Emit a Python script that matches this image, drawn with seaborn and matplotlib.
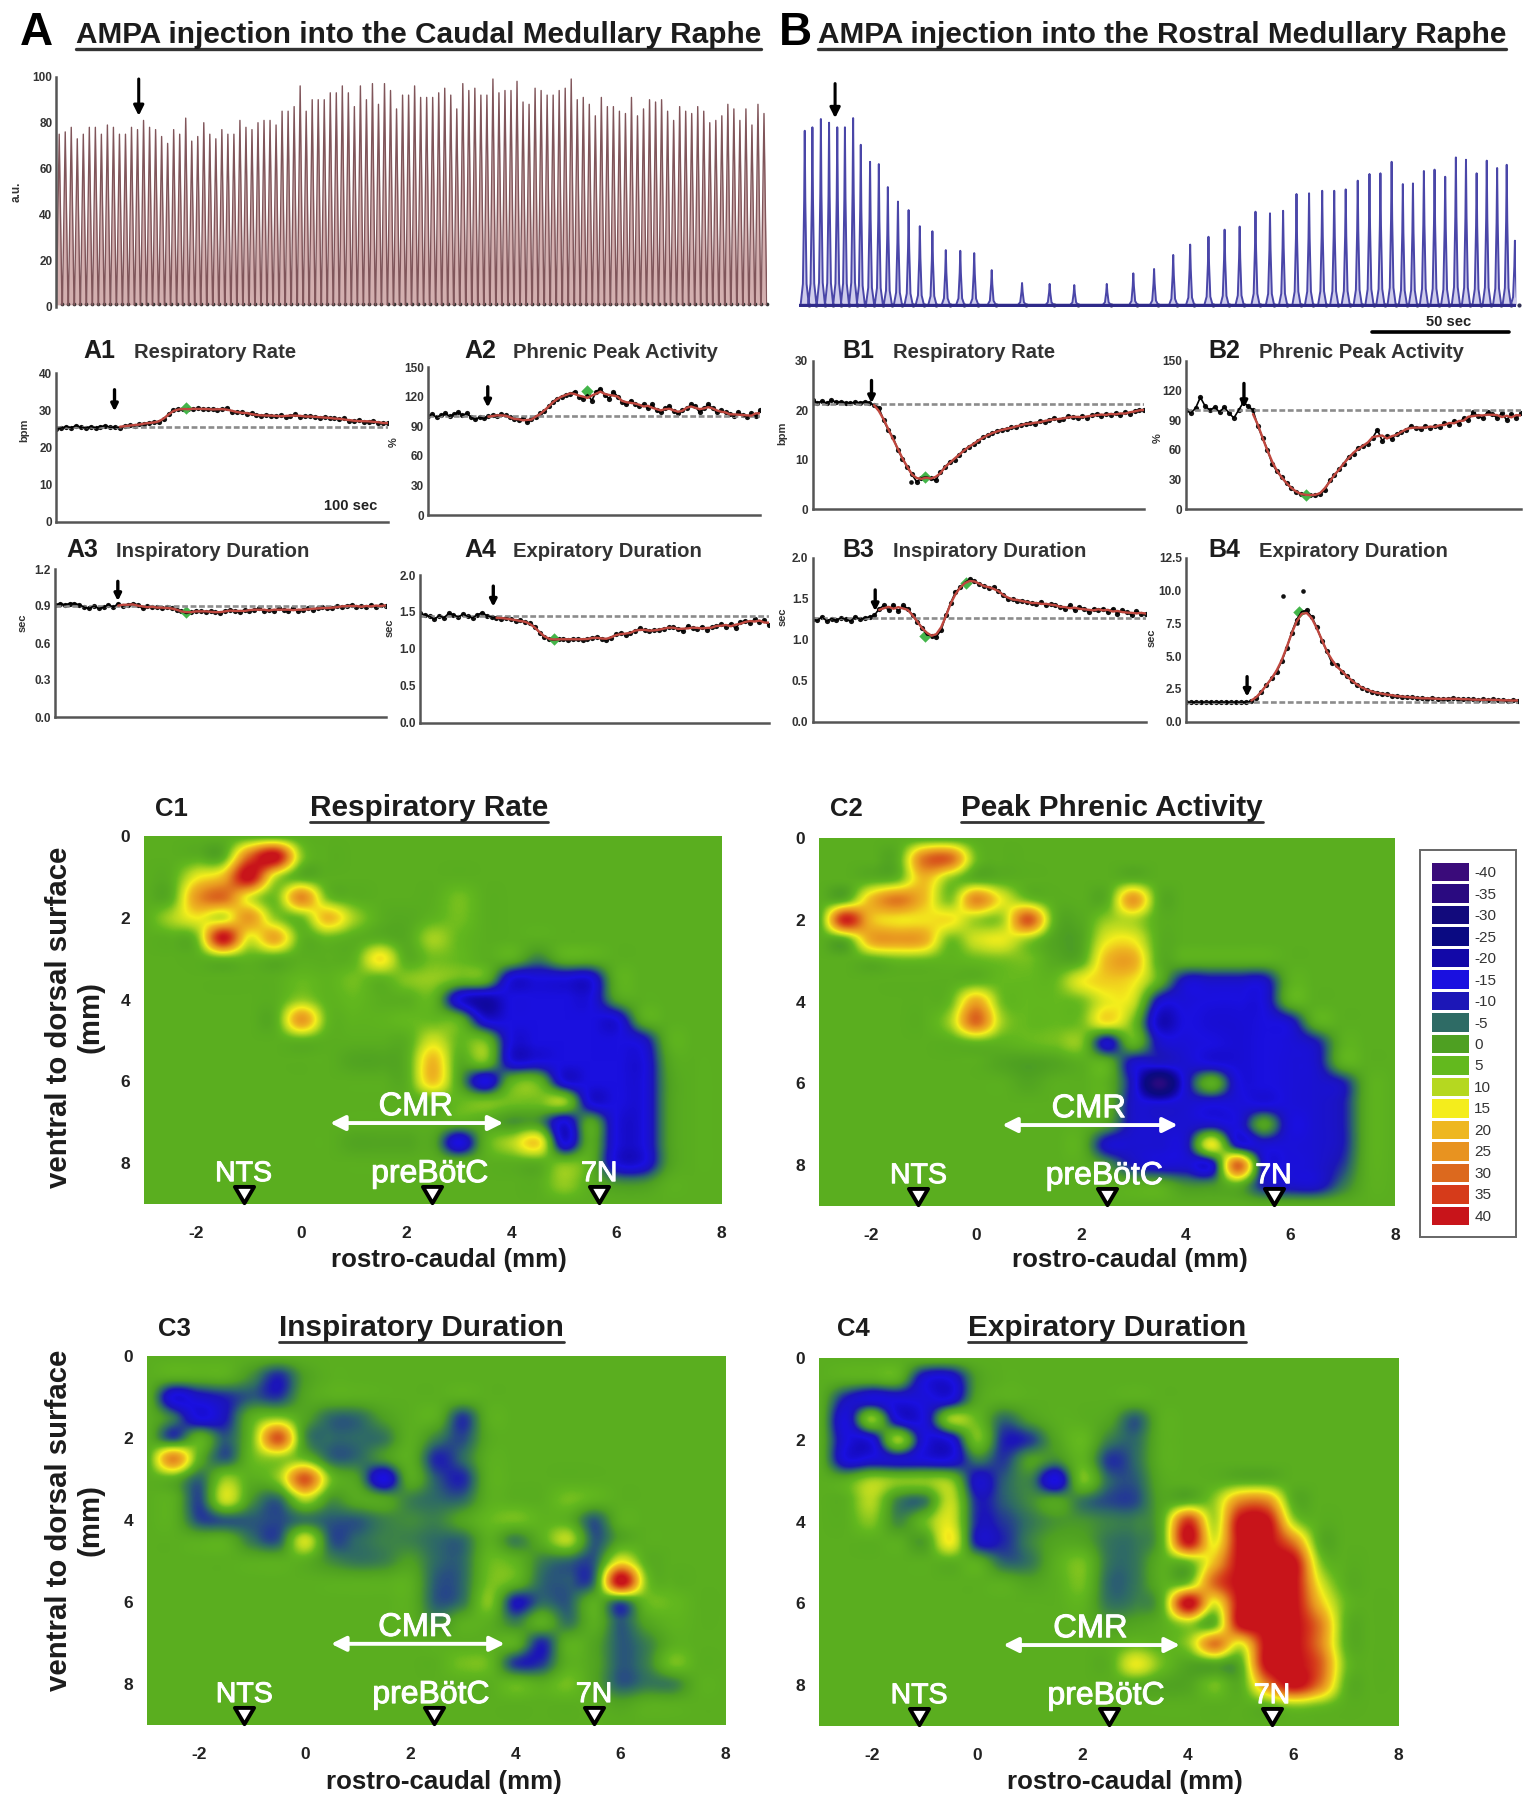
"""AMPA injection into the medullary raphe: phrenic traces, time courses and functional maps."""

import numpy as np
import pandas as pd
import matplotlib.pyplot as plt
import matplotlib.patheffects as pe
import seaborn as sns
from matplotlib.colors import LinearSegmentedColormap
from matplotlib.lines import Line2D
from matplotlib.patches import Rectangle
from matplotlib.path import Path

W, H = 1523, 1800

# ---- top traces: peak heights in a.u.
A_peaks = [75, 76, 78, 73, 75, 78, 78, 75, 79, 78, 75, 75, 78, 77, 81, 78, 77, 74, 71, 77, 75, 82, 72, 74, 80,
           75, 73, 77, 75, 75, 81, 78, 77, 80, 81, 81, 79, 85, 85, 87, 96, 85, 90, 90, 90, 93, 93, 96, 93, 87,
           96, 90, 97, 88, 97, 94, 86, 92, 92, 96, 91, 91, 91, 93, 95, 92, 86, 97, 94, 95, 92, 92, 99, 93, 94,
           94, 98, 89, 88, 95, 94, 92, 92, 94, 95, 99, 90, 91, 88, 83, 91, 87, 87, 85, 84, 91, 83, 86, 90, 89,
           90, 85, 81, 87, 85, 84, 87, 85, 80, 81, 83, 88, 86, 81, 86, 79, 88, 84]
B_times = [2.1, 4.9, 8.0, 11.0, 14.0, 16.8, 19.8, 22.6, 26.0, 29.2, 32.5, 36.2, 40.1, 44.2, 48.8, 53.7, 59.0, 64.1,
           70.5, 81.6, 91.7, 100.7, 112.6, 122.3, 129.9, 136.9, 143.1, 149.8, 155.7, 161.2, 167.0, 172.3, 177.1,
           182.0, 186.6, 191.4, 195.8, 200.0, 204.4, 208.7, 212.7, 216.8, 220.9, 224.6, 228.6, 232.5, 236.4, 240.3,
           244.0, 247.9, 251.6, 255.4, 258.9, 261.9]
B_peaks = [76.5, 78, 81.6, 80, 78, 78, 82, 70.4, 63, 62, 52, 45.7, 42, 35, 32.8, 24.6, 24.3, 23.3, 15.9, 10.3, 9.9, 9.4,
           9.9, 14.5, 16.4, 22.5, 27, 30.4, 33.5, 34.8, 41.3, 40.6, 41.7, 49, 49.3, 50.4, 50.4, 51, 54.8, 57.7, 58, 63,
           53.3, 53.6, 59, 59.6, 56.5, 64.9, 63.9, 58, 63.5, 60.3, 61.7, 28.7]

# ---- time courses
A1_y = [25, 25.2, 25.6, 25.3, 25.8, 25.4, 25.2, 25.6, 25.3, 25.6, 25.8, 25.4, 25.5, 25.3, 25.8, 26, 25.8, 26.2, 26.4,
        26.6, 26.7, 26.8, 27.5, 29, 30, 30.4, 30.2, 30.4, 30.2, 30.5, 30.3, 30.2, 30.4, 30, 30.3, 30.5, 29.6, 29.4,
        29.5, 29, 29.2, 28.6, 28.4, 28.8, 28.5, 28.3, 28.6, 28.2, 28.5, 28.9, 28.2, 28.3, 28.4, 28.2, 28, 28.1, 27.9,
        27.8, 27.5, 27.8, 27.2, 27, 27.3, 26.9, 26.9, 27.2, 26.5, 26.6, 26.5]
A2_y = [100, 102, 99, 101, 103, 100, 102, 104, 101, 103, 99, 97, 99, 98, 100, 101, 100, 102, 101, 99, 97, 96, 98, 94,
        97, 99, 103, 105, 110, 115, 118, 120, 122, 123, 125, 120, 118, 122, 116, 125, 128, 122, 118, 125, 120, 115,
        112, 116, 113, 110, 112, 108, 112, 106, 104, 108, 110, 105, 103, 106, 108, 112, 110, 104, 108, 112, 108, 104,
        106, 104, 102, 100, 104, 101, 99, 103, 100, 106]
A3_y = [.91, .92, .91, .92, .92, .91, .89, .88, .90, .88, .89, .91, .89, .92, .90, .91, .92, .91, .88, .90, .89, .89,
        .88, .89, .88, .87, .86, .84, .85, .86, .86, .85, .86, .85, .84, .86, .87, .86, .85, .87, .86, .87, .88, .86,
        .87, .86, .88, .87, .86, .88, .86, .87, .88, .87, .88, .89, .88, .88, .90, .89, .90, .91, .89, .90, .89, .91,
        .89, .91, .90]
A4_y = [1.48, 1.46, 1.44, 1.40, 1.45, 1.42, 1.48, 1.46, 1.43, 1.47, 1.44, 1.42, 1.46, 1.49, 1.45, 1.43, 1.42, 1.41,
        1.42, 1.40, 1.38, 1.39, 1.36, 1.35, 1.30, 1.22, 1.16, 1.13, 1.12, 1.13, 1.14, 1.12, 1.13, 1.14, 1.12, 1.13,
        1.15, 1.16, 1.14, 1.12, 1.15, 1.20, 1.21, 1.19, 1.22, 1.24, 1.28, 1.25, 1.24, 1.25, 1.26, 1.27, 1.29, 1.30,
        1.27, 1.24, 1.31, 1.28, 1.27, 1.30, 1.26, 1.29, 1.31, 1.33, 1.30, 1.34, 1.28, 1.36, 1.38, 1.35, 1.40, 1.36,
        1.39, 1.32]
B1_y = [22, 21.5, 21.8, 21.4, 22, 21.6, 21.7, 21.5, 21.4, 21.6, 21.5, 21.7, 21.5, 21, 20.5, 18, 16, 14.5, 12, 10.2,
        8.5, 7, 5.5, 6.3, 6.5, 6.2, 5.8, 7.5, 8.4, 9.6, 10, 11, 12, 12.5, 13.2, 13.8, 14.5, 15, 15.3, 15.8, 16, 16.2,
        16.5, 16.6, 17, 17.2, 17.4, 17.2, 17.8, 17.6, 18, 18.4, 18, 18.2, 18.8, 18.6, 18.5, 18.8, 18.4, 19, 19.2,
        18.8, 19.3, 19, 19.4, 19, 19.6, 19.3, 19.8, 20.1, 20]
B2_y = [100, 97, 102, 113, 104, 100, 103, 98, 103, 97, 92, 100, 108, 104, 100, 84, 72, 60, 46, 38, 32, 26, 21, 17, 15,
        14, 14, 14, 15, 19, 29, 34, 40, 46, 53, 56, 62, 64, 66, 72, 80, 69, 74, 71, 76, 78, 80, 84, 82, 81, 84, 82, 84,
        83, 87, 85, 89, 86, 92, 90, 98, 94, 92, 98, 96, 92, 97, 90, 96, 92, 97]
B3_y = [1.25, 1.24, 1.28, 1.23, 1.26, 1.24, 1.27, 1.25, 1.23, 1.28, 1.25, 1.27, 1.28, 1.3, 1.38, 1.42, 1.36, 1.43,
        1.35, 1.42, 1.38, 1.3, 1.22, 1.15, 1.06, 1.05, 1.04, 1.12, 1.3, 1.45, 1.58, 1.64, 1.7, 1.74, 1.72, 1.68, 1.66,
        1.63, 1.64, 1.6, 1.55, 1.5, 1.5, 1.48, 1.48, 1.46, 1.45, 1.44, 1.46, 1.42, 1.44, 1.43, 1.4, 1.38, 1.42, 1.36,
        1.4, 1.38, 1.34, 1.38, 1.36, 1.38, 1.34, 1.38, 1.32, 1.36, 1.34, 1.3, 1.35, 1.32, 1.32]
B4_y = [1.5, 1.5, 1.5, 1.5, 1.5, 1.5, 1.5, 1.5, 1.5, 1.5, 1.5, 1.5, 1.5, 1.55, 1.8, 2.3, 2.8, 3.3, 3.8, 4.6, 5.6, 6.8,
        7.8, 8.4, 8.5, 8.0, 7.2, 6.2, 5.4, 4.5, 4.3, 3.8, 3.5, 3.1, 2.8, 2.6, 2.4, 2.3, 2.2, 2.1, 2.1, 2.0, 1.95, 1.9,
        1.9, 1.85, 1.8, 1.8, 1.75, 1.8, 1.75, 1.7, 1.75, 1.8, 1.7, 1.75, 1.7, 1.7, 1.65, 1.7, 1.65, 1.7, 1.65, 1.65,
        1.6, 1.65, 1.6]

# ---- maps: rows 0..9 mm, columns -3..8 mm, both every 0.5 mm
C1_grid = [
    [3, 3, 3, 3, 3, 3, 3, 3, 3, 3, 3, 3, 3, 3, 3, 3, 3, 3, 3, 3, 3, 3, 3],
    [3, 3, 3, 3, 30, 42, 8, 3, 3, 3, 3, 3, 3, 3, 3, 3, 3, 3, 3, 3, 3, 3, 3],
    [3, 3, 14, 20, 42, 12, 3, 3, 3, 3, 3, 3, 3, 3, 3, 3, 3, 3, 3, 3, 3, 3, 3],
    [3, 3, 24, 30, 14, 6, 26, 6, 3, 3, 3, 3, 6, 3, 3, 3, 3, 3, 3, 3, 3, 3, 3],
    [3, 9, 15, 12, 24, 8, 6, 20, 9, 3, 2, 4, 6, 3, 3, 3, 3, 3, 3, 3, 3, 3, 3],
    [3, 3, 6, 40, 14, 22, 4, 5, 3, 3, 2, 9, 5, 3, 3, 3, 3, 3, 3, 3, 3, 3, 3],
    [3, 3, 3, 5, 4, 3, 3, 3, 4, 16, 3, 6, 5, 3, 3, -3, 3, 3, 3, 3, 3, 3, 3],
    [3, 3, 3, 3, 3, 3, 5, 4, 6, 4, 7, 8, 5, 3, -15, -15, -15, -15, 3, 3, 3, 3, 3],
    [3, 3, 3, 3, 3, 3, 8, 4, 5, 3, 3, 4, -15, -20, -15, -15, -15, -15, 0, 3, 3, 3, 3],
    [3, 3, 3, 3, 3, 3, 24, 5, 4, 4, 5, 5, 3, -15, -15, -15, -15, -15, -15, 2, 3, 3, 3],
    [3, 3, 3, 3, 3, 3, 4, 3, 3, 3, 3, 12, 5, 5, -15, -15, -15, -15, -15, -12, 3, 3, 3],
    [3, 3, 3, 3, 3, 3, 3, 3, 1, 1, 3, 20, 3, 6, -15, -15, -15, -15, -15, -15, 1, 3, 3],
    [3, 3, 3, 3, 3, 3, 3, 3, 3, 3, 3, 19, 1, -15, 3, 4, -15, -15, -15, -15, 0, 3, 3],
    [3, 3, 3, 3, 3, 3, 3, 3, 3, 3, 3, 3, 5, 6, 6, 6, 8, -15, -15, -15, 0, 3, 3],
    [3, 3, 3, 3, 3, 3, 3, 3, 3, 3, 3, 3, 3, 2, -1, -1, -15, 1, -15, -15, 0, 3, 3],
    [3, 3, 3, 3, 3, 3, 3, 3, 1, 1, 1, 1, -15, 3, 10, 17, -15, 2, -15, -15, 0, 3, 3],
    [3, 3, 3, 3, 3, 3, 3, 3, 3, 3, 3, 3, 3, 3, 3, 3, 6, 3, -15, -15, 0, 3, 3],
    [3, 3, 3, 3, 3, 3, 3, 3, 3, 3, 3, 3, 3, 3, 3, 3, 8, 3, -1, -1, 3, 3, 3],
    [3, 3, 3, 3, 3, 3, 3, 3, 3, 3, 3, 3, 3, 3, 3, 3, 3, 3, 3, 3, 3, 3, 3],
]
C2_grid = [
    [3, 3, 3, 3, 3, 3, 3, 3, 3, 3, 3, 3, 3, 3, 3, 3, 3, 3, 3, 3, 3, 3, 3],
    [3, 3, 3, 3, 28, 30, 6, 3, 3, 3, 3, 3, 3, 3, 3, 3, 3, 3, 3, 3, 3, 3, 3],
    [3, 3, 3, 5, 20, 8, 3, 3, 3, 3, 3, 3, 3, 3, 3, 3, 3, 3, 3, 3, 3, 3, 3],
    [3, 3, 20, 28, 20, 7, 26, 14, 6, 3, 3, 3, 24, 3, 3, 3, 3, 3, 3, 3, 3, 3, 3],
    [3, 38, 20, 16, 16, 16, 9, 9, 32, 4, 2, 8, 10, 3, 3, 3, 3, 3, 3, 3, 3, 3, 3],
    [3, 3, 22, 24, 22, 6, 12, 14, 8, 1, 1, 14, 15, 3, 3, 3, 3, 3, 3, 3, 3, 3, 3],
    [3, 3, 3, 5, 5, 4, 5, 6, 6, 2, 3, 20, 22, 3, 3, 3, 3, 3, 3, 3, 3, 3, 3],
    [3, 3, 3, 3, 3, 3, 4, 5, 5, 5, 14, 18, 16, 3, -12, -12, -12, -12, 3, 3, 3, 3, 3],
    [3, 3, 3, 3, 3, 5, 22, 6, 5, 5, 6, 14, 12, -12, -14, -15, -15, -14, 3, 3, 3, 3, 3],
    [3, 3, 3, 3, 3, 9, 30, 9, 5, 5, 6, 16, 6, -18, -15, -16, -16, -15, -12, 3, 3, 3, 3],
    [3, 3, 3, 3, 3, 3, 5, 4, 5, 6, 7, -12, 4, -12, -14, -15, -16, -15, -14, -10, 3, 3, 3],
    [3, 3, 3, 3, 3, 3, 3, 1, 0, 1, 3, 3, -12, -12, -13, -15, -16, -15, -14, -12, 3, 3, 3],
    [3, 3, 3, 3, 3, 3, 3, 3, 1, 3, 3, 3, -12, -35, -13, 3, -14, -15, -14, -13, -10, 3, 3],
    [3, 3, 3, 3, 3, 3, 3, 3, 3, 3, 3, 3, -12, -14, -13, -14, -14, -15, -14, -13, -10, 3, 3],
    [3, 3, 3, 3, 3, 3, 3, 3, 3, 3, 3, 0, -12, -13, -13, -12, -14, 1, -14, -13, -10, 3, 3],
    [3, 3, 3, 3, 3, 3, 3, 3, 3, 3, 3, -12, -13, -13, -12, 14, -12, -13, -14, -13, -10, 3, 3],
    [3, 3, 3, 3, 3, 3, 3, 3, 3, 3, 3, -1, -10, -13, -13, -13, 30, -12, -14, -13, -8, 3, 3],
    [3, 3, 3, 3, 3, 3, 3, 3, 3, 3, 3, 3, 3, 3, -1, -1, 3, -10, -12, -12, -4, 3, 3],
    [3, 3, 3, 3, 3, 3, 3, 3, 3, 3, 3, 3, 3, 3, 3, 3, 3, 3, 3, 3, 3, 3, 3],
]
C3_grid = [
    [3, 3, 3, 3, 3, 3, 3, 3, 3, 3, 3, 3, 3, 3, 3, 3, 3, 3, 3, 3, 3, 3, 3],
    [3, 3, 3, 3, -2, -9, 0, 3, 3, 3, 3, 3, 3, 3, 3, 3, 3, 3, 3, 3, 3, 3, 3],
    [3, -15, -12, -9, -6, -8, 1, 3, 3, 3, 3, 3, 3, 3, 3, 3, 3, 3, 3, 3, 3, 3, 3],
    [3, -4, -15, -10, 3, 7, 1, -5, -5, 0, 3, 3, -8, 3, 3, 3, 3, 3, 3, 3, 3, 3, 3],
    [3, -7, 3, -6, 6, 32, -1, -5, -5, -4, 3, -3, -7, 2, 3, 3, 3, 3, 3, 3, 3, 3, 3],
    [3, 26, 3, -6, 5, 8, 5, -5, -5, -1, 3, -9, -5, 3, 3, 3, 3, 3, 3, 3, 3, 3, 3],
    [3, 3, -5, 8, 3, 8, 32, 6, 0, -15, 2, -6, -9, 3, 3, 3, 3, 3, 3, 3, 3, 3, 3],
    [3, 3, -7, 12, -1, -5, 10, -1, 2, 1, -3, -5, -5, 3, 3, 3, 6, 4, 3, 3, 3, 3, 3],
    [3, 3, -7, -6, -6, -7, -4, -6, -6, -3, -2, -3, 1, 5, 6, 4, 3, -6, 3, 3, 3, 3, 3],
    [3, 3, 3, 3, -4, -6, 12, -6, -5, -3, -3, -5, -5, 3, -3, 3, 10, -6, 1, 3, 3, 3, 3],
    [3, 3, 3, 3, 3, 3, 3, -2, -4, -3, 0, -5, -5, 5, 4, -3, -5, -6, 14, 3, 3, 3, 3],
    [3, 3, 3, 3, 3, 3, 3, 3, 3, 3, 3, -6, -5, 6, 4, -5, -6, -4, 42, 7, 3, 3, 3],
    [3, 3, 3, 3, 3, 3, 3, 3, 3, 3, 3, -6, -4, 7, -10, -5, -6, 3, -5, 5, 5, 3, 3],
    [3, 3, 3, 3, 3, 3, 3, 3, 3, 3, 3, -2, 3, 3, -3, 3, -4, 3, -6, 1, 4, 3, 3],
    [3, 3, 3, 3, 3, 3, 3, 3, 3, 3, 3, 3, 3, 3, 3, -9, 3, 1, -6, -3, 3, 3, 3],
    [3, 3, 3, 3, 3, 3, 3, 3, 3, 3, 3, 3, 6, 5, -8, -8, 3, 1, -6, -3, 6, 3, 3],
    [3, 3, 3, 3, 3, 3, 3, 3, 3, 3, 3, 3, 3, 3, 5, 3, 6, 1, -6, -4, -3, 3, 3],
    [3, 3, 3, 3, 3, 3, 3, 3, 3, 3, 3, 3, 3, 3, 3, 3, 3, 3, 1, 3, 3, 3, 3],
    [3, 3, 3, 3, 3, 3, 3, 3, 3, 3, 3, 3, 3, 3, 3, 3, 3, 3, 3, 3, 3, 3, 3],
]
C4_grid = [
    [3, 3, 3, 3, 3, 3, 3, 3, 3, 3, 3, 3, 3, 3, 3, 3, 3, 3, 3, 3, 3, 3, 3],
    [3, 3, 3, 3, -13, -14, 0, 3, 3, 3, 3, 3, 3, 3, 3, 3, 3, 3, 3, 3, 3, 3, 3],
    [3, -10, -14, -14, -14, -14, 1, 3, 3, 3, 3, 3, 3, 3, 3, 3, 3, 3, 3, 3, 3, 3, 3],
    [3, -14, 7, -14, -14, 8, 5, -5, 0, 3, 3, 1, -6, 3, 3, 3, 3, 3, 3, 3, 3, 3, 3],
    [3, -14, -14, 8, -14, -14, 6, -9, -8, 1, 5, -3, -5, 3, 3, 3, 3, 3, 3, 3, 3, 3, 3],
    [3, -14, -13, -12, -14, -14, -4, -8, 0, -2, 4, -8, -5, 3, 3, 3, 3, 3, 3, 3, 3, 3, 3],
    [3, 3, 9, 7, 7, 7, -12, -6, -3, -15, 6, -5, -6, 2, 3, 3, 3, 3, 3, 3, 3, 3, 3],
    [3, 3, 10, -3, -4, 11, -9, -6, -2, 1, -4, -7, -7, 1, 3, 8, 26, 26, 3, 3, 3, 3, 3],
    [3, 3, 7, -2, 5, 13, -9, -8, -4, -1, -1, -3, -3, 3, 36, 10, 42, 42, 10, 3, 3, 3, 3],
    [3, 3, 3, 3, 0, 15, -10, -9, -3, 1, 1, -4, -4, 3, 40, 14, 42, 42, 28, 3, 3, 3, 3],
    [3, 3, 3, 3, 3, 3, 3, -5, -4, 3, 6, -4, -4, 3, 5, 20, 42, 42, 42, 8, 3, 3, 3],
    [3, 3, 3, 3, 3, 3, 3, 3, 1, 3, 6, -5, -4, 3, 6, 30, 42, 42, 42, 14, 3, 3, 3],
    [3, 3, 3, 3, 3, 3, 3, 3, 3, 3, 4, -4, -3, 3, 42, 14, 42, 42, 42, 20, 5, 3, 3],
    [3, 3, 3, 3, 3, 3, 3, 3, 3, 3, 3, 0, 1, 3, 9, 4, 42, 42, 42, 28, 4, 3, 3],
    [3, 3, 3, 3, 3, 3, 3, 3, 3, 3, 3, 3, 5, 4, 8, 28, 14, 42, 42, 28, 4, 3, 3],
    [3, 3, 3, 3, 3, 3, 3, 3, 3, 3, 3, 3, 14, 6, 1, 1, 3, 42, 42, 32, 6, 3, 3],
    [3, 3, 3, 3, 3, 3, 3, 3, 3, 3, 3, 3, 2, 1, 1, 6, 3, 26, 42, 28, 4, 3, 3],
    [3, 3, 3, 3, 3, 3, 3, 3, 3, 3, 3, 3, 3, 3, 3, 3, 3, 4, 8, 6, 3, 3, 3],
    [3, 3, 3, 3, 3, 3, 3, 3, 3, 3, 3, 3, 3, 3, 3, 3, 3, 3, 3, 3, 3, 3, 3],
]
legend_levels = [-40, -35, -30, -25, -20, -15, -10, -5, 0, 5, 10, 15, 20, 25, 30, 35, 40]
legend_colors = ["#3a0b7a", "#2a0a80", "#120a7c", "#0a0a82", "#1208a8", "#1a10e0", "#1c16b8", "#2e6a66", "#4ea022",
                 "#62b81e", "#b4d820", "#f4ee1c", "#eeb820", "#e89420", "#dc6a1e", "#d63c1a", "#c8141a"]

sns.set_theme(style="white")
plt.rcParams["font.family"] = "Liberation Sans"
plt.rcParams["axes.unicode_minus"] = False

cmap = LinearSegmentedColormap.from_list("resp", legend_colors, N=512)
fig = plt.figure(figsize=(W / 100, H / 100), dpi=100, facecolor="white")
renderer = fig.canvas.get_renderer()
glow = [pe.withStroke(linewidth=0.7, foreground="white")]


def px_ax(left, top, right, bottom):
    return fig.add_axes([left / W, 1 - bottom / H, (right - left) / W, (bottom - top) / H])


def px_text(x, y, s, **kw):
    return fig.text(x / W, 1 - y / H, s, **kw)


def underlined(x, y, s, size, lw=2.4):
    t = px_text(x, y, s, fontsize=size, fontweight="bold", color="#1c1c1c", va="baseline")
    w = t.get_window_extent(renderer).width
    fig.add_artist(Line2D([x / W, (x + w) / W], [1 - (y + 6) / H] * 2, color="#333333", lw=lw))


def style_trace_ax(ax, ticks):
    sns.despine(ax=ax)
    ax.set_yticks(ticks)
    ax.set_xticks([])
    ax.tick_params(axis="y", labelsize=8.5, length=0, pad=3, labelcolor="#333333")
    for lab in ax.get_yticklabels():
        lab.set_fontweight("bold")
    for side in ("left", "bottom"):
        ax.spines[side].set_color("#555555")
        ax.spines[side].set_linewidth(1.8)
    ax.patch.set_alpha(0)


def spike_trace(ax, times, heights, half_width, line_color, fill_color, rel_t, rel_v, lw):
    t = np.ravel([[p + half_width * r for r in rel_t] for p in times])
    v = np.ravel([[0.8 + (h - 0.8) * r for r in rel_v] for h in heights])
    ax.fill_between(t, v, 0.8, color=fill_color, lw=0)
    sns.lineplot(x=t, y=v, sort=False, estimator=None, color=line_color, lw=lw, ax=ax, legend=False)


# ---- panels A and B
px_text(20, 45, "A", fontsize=33, fontweight="bold", color="black", va="baseline")
px_text(779, 45, "B", fontsize=33, fontweight="bold", color="black", va="baseline")
underlined(76, 43, "AMPA injection into the Caudal Medullary Raphe", 21.4)
underlined(818, 43, "AMPA injection into the Rostral Medullary Raphe", 21.4)

ax = px_ax(56.5, 76.7, 767, 306.7)
a_index = np.arange(len(A_peaks))
spike_trace(ax, a_index, A_peaks, 0.46, "#80555a", "#d3afaf", [-1, 0, 1], [0, 1, 0], 1.0)
ax.set(xlim=(-0.45, len(A_peaks) - 0.5), ylim=(0, 100), xlabel="", ylabel="")
style_trace_ax(ax, [0, 20, 40, 60, 80, 100])
ax.spines["bottom"].set_visible(False)
sns.scatterplot(x=a_index + 0.5, y=1.2, s=7, color="#333333", linewidth=0, ax=ax, clip_on=False, legend=False)
ax.annotate("", xy=(13.2, 83), xytext=(13.2, 99),
            arrowprops=dict(arrowstyle="-|>", color="black", lw=2.2, mutation_scale=15, shrinkA=0, shrinkB=0))
px_text(17, 192, "a.u.", fontsize=8.5, fontweight="bold", rotation=90, ha="center", va="center", color="#333333")

ax = px_ax(799, 76.7, 1516, 306.7)
spike_trace(ax, B_times, B_peaks, 1.5, "#4a46a8", "#cfcdec", [-1, -0.45, -0.14, 0, 0.14, 0.45, 1],
            [0, 0.12, 0.6, 1, 0.6, 0.12, 0], 1.4)
sns.lineplot(x=[0, 262], y=[0.8, 0.8], color="#2f2a8a", lw=2.4, ax=ax, legend=False)
sns.scatterplot(x=np.array(B_times) + 1.5, y=0.6, s=9, color="#333355", linewidth=0, ax=ax, clip_on=False, legend=False)
ax.set(xlim=(0, 262.3), ylim=(0, 100), xticks=[], yticks=[], xlabel="", ylabel="")
sns.despine(ax=ax, left=True, bottom=True)
ax.patch.set_alpha(0)
ax.annotate("", xy=(13.2, 82), xytext=(13.2, 97),
            arrowprops=dict(arrowstyle="-|>", color="black", lw=2.2, mutation_scale=15, shrinkA=0, shrinkB=0))
fig.add_artist(Line2D([1372 / W, 1509 / W], [1 - 332 / H] * 2, color="black", lw=2.6))
px_text(1449, 322, "50 sec", fontsize=10.5, fontweight="bold", ha="center", va="center", color="#222222")

panels = [
    dict(y=A1_y, label="A1", title="Respiratory Rate", lab_x=83, tit_x=134, base_y=358, rect=(56.5, 373, 388, 521.7),
         ylim=(0, 40), ticks=[0, 10, 20, 30, 40], fmt="%d", unit="bpm", unit_px=(24, 430), baseline=25.6,
         mark=(0.39, 30.5), arrow=(0.175, 35.5, 29.7), start=0.18),
    dict(y=A2_y, label="A2", title="Phrenic Peak Activity", lab_x=464, tit_x=513, base_y=358,
         rect=(428, 367, 760, 515), ylim=(0, 150), ticks=[0, 30, 60, 90, 120, 150], fmt="%d", unit="%",
         unit_px=(394, 442), baseline=100, mark=(0.48, 126), arrow=(0.18, 130, 109), start=0.18),
    dict(y=A3_y, label="A3", title="Inspiratory Duration", lab_x=66, tit_x=116, base_y=557,
         rect=(55, 569, 385.6, 717), ylim=(0, 1.2), ticks=[0, 0.3, 0.6, 0.9, 1.2], fmt="%.1f", unit="sec",
         unit_px=(22.6, 623), baseline=0.9, mark=(0.395, 0.85), arrow=(0.19, 1.1, 0.94), start=0.19),
    dict(y=A4_y, label="A4", title="Expiratory Duration", lab_x=464, tit_x=513, base_y=557,
         rect=(420, 575, 769, 722.7), ylim=(0, 2), ticks=[0, 0.5, 1, 1.5, 2], fmt="%.1f", unit="sec",
         unit_px=(390, 628), baseline=1.45, mark=(0.385, 1.13), arrow=(0.21, 1.85, 1.57), start=0.21),
    dict(y=B1_y, label="B1", title="Respiratory Rate", lab_x=842, tit_x=893, base_y=358,
         rect=(812.5, 360.7, 1144, 509), ylim=(0, 30), ticks=[0, 10, 20, 30], fmt="%d", unit="bpm",
         unit_px=(782, 433), baseline=21.3, mark=(0.338, 6.5), arrow=(0.178, 26, 21.4), start=0.18),
    dict(y=B2_y, label="B2", title="Phrenic Peak Activity", lab_x=1208, tit_x=1259, base_y=358,
         rect=(1186, 360.7, 1521, 509), ylim=(0, 150), ticks=[0, 30, 60, 90, 120, 150], fmt="%d", unit="%",
         unit_px=(1158, 438), baseline=100, mark=(0.358, 14), arrow=(0.173, 127, 102), start=0.19),
    dict(y=B3_y, label="B3", title="Inspiratory Duration", lab_x=842, tit_x=893, base_y=557,
         rect=(812.5, 558, 1146, 721.7), ylim=(0, 2), ticks=[0, 0.5, 1, 1.5, 2], fmt="%.1f", unit="sec",
         unit_px=(783, 617), baseline=1.27, mark=(0.46, 1.7), arrow=(0.188, 1.61, 1.35), start=0.19,
         mark2=(0.336, 1.05)),
    dict(y=B4_y, label="B4", title="Expiratory Duration", lab_x=1208, tit_x=1259, base_y=557,
         rect=(1186, 558, 1518, 721.7), ylim=(0, 12.5), ticks=[0, 2.5, 5, 7.5, 10, 12.5], fmt="%.1f", unit="sec",
         unit_px=(1152, 638), baseline=1.5, mark=(0.34, 8.4), arrow=(0.184, 3.44, 1.9), start=0.19),
]
stray_points = {"B1": [(0.297, 5.5)], "B4": [(0.293, 9.6), (0.351, 10.0), (0.335, 7.5)]}

for p in panels:
    ax = px_ax(*p["rect"])
    df = pd.DataFrame({"y": p["y"]})
    df["t"] = np.linspace(0, 1, len(df))
    df["fit"] = df["y"].rolling(3, center=True, min_periods=1).mean()
    ax.plot([0, 1], [p["baseline"]] * 2, color="#8c8c8c", lw=1.9, ls=(0, (2.2, 1)))
    sns.lineplot(data=df, x="t", y="y", color="black", lw=1.2, ax=ax, legend=False)
    sns.lineplot(data=df[df["t"] >= p["start"]], x="t", y="fit", color="#c0483f", lw=1.7, ax=ax, legend=False)
    sns.scatterplot(data=df, x="t", y="y", s=14, color="#111111", linewidth=0, ax=ax, legend=False)
    if p["label"] in stray_points:
        sx, sy = zip(*stray_points[p["label"]])
        sns.scatterplot(x=list(sx), y=list(sy), s=11, color="#111111", linewidth=0, ax=ax, legend=False)
    marks = [p["mark"]] + ([p["mark2"]] if "mark2" in p else [])
    for mx, my in marks:
        sns.scatterplot(x=[mx], y=[my], s=40, marker="D", color="#43b54a", linewidth=0, ax=ax, legend=False)
    ax.set(xlim=(0, 1), ylim=p["ylim"], xlabel="", ylabel="")
    style_trace_ax(ax, p["ticks"])
    ax.set_yticklabels([p["fmt"] % v for v in p["ticks"]], fontweight="bold")
    ax_x, y0, y1 = p["arrow"]
    ax.annotate("", xy=(ax_x, y1), xytext=(ax_x, y0),
                arrowprops=dict(arrowstyle="-|>", color="black", lw=2.4, mutation_scale=10, shrinkA=0, shrinkB=0))
    px_text(p["lab_x"], p["base_y"], p["label"], fontsize=18, fontweight="bold", color="#1c1c1c", va="baseline")
    px_text(p["tit_x"], p["base_y"], p["title"], fontsize=14.6, fontweight="bold", color="#333333", va="baseline")
    px_text(*p["unit_px"], p["unit"], fontsize=8, fontweight="bold", rotation=90, ha="center", va="center",
            color="#333333")
px_text(351, 506, "100 sec", fontsize=10.5, fontweight="bold", ha="center", va="center", color="#222222")

# ---- panels C
tri_marker = Path([(-1, 1), (1, 1), (0, -0.7), (-1, 1)], closed=True)
maps = [
    dict(grid=C1_grid, label="C1", title="Respiratory Rate", rect=(143.9, 836, 721, 1204), lab=(155, 816),
         tit=(310, 816), xlab=(449, 1260), marks=(-1.1, 2.5, 5.68), ylabel=(75, 1017), arrow=(0.55, 3.85), cmr=2.18),
    dict(grid=C2_grid, label="C2", title="Peak Phrenic Activity", rect=(819, 838, 1395, 1206), lab=(830, 816),
         tit=(961, 816), xlab=(1130, 1260), marks=(-1.1, 2.5, 5.68), ylabel=None, arrow=(0.5, 3.85), cmr=2.15),
    dict(grid=C3_grid, label="C3", title="Inspiratory Duration", rect=(147, 1356, 725.6, 1725), lab=(158, 1336),
         tit=(279, 1336), xlab=(444, 1782), marks=(-1.15, 2.45, 5.5), ylabel=(75, 1520), arrow=(0.5, 3.8), cmr=2.1),
    dict(grid=C4_grid, label="C4", title="Expiratory Duration", rect=(819, 1358, 1398.5, 1726), lab=(837, 1336),
         tit=(968, 1336), xlab=(1125, 1782), marks=(-1.1, 2.5, 5.6), ylabel=None, arrow=(0.5, 3.85), cmr=2.15),
]
place_names = ["NTS", "preBötC", "7N"]

for m in maps:
    ax = px_ax(*m["rect"])
    ax.imshow(np.array(m["grid"], dtype=float), cmap=cmap, vmin=-40, vmax=40, interpolation="catrom",
              extent=(-3.25, 8.25, 9.25, -0.25), aspect="auto")
    ax.set(xlim=(-3, 8), ylim=(9, 0), xticks=[-2, 0, 2, 4, 6, 8], yticks=[0, 2, 4, 6, 8])
    ax.grid(False)
    sns.despine(ax=ax, left=True, bottom=True)
    ax.tick_params(axis="x", length=6, width=1, color="#666666", pad=10, labelsize=12.5, labelcolor="#222222")
    ax.tick_params(axis="y", length=5, width=1, color="#666666", pad=5, labelsize=12.5, labelcolor="#222222")
    for lab in ax.get_xticklabels() + ax.get_yticklabels():
        lab.set_fontweight("bold")
    for name, mx in zip(place_names, m["marks"]):
        sns.scatterplot(x=[mx], y=[8.8], s=190, marker=tri_marker, color="white", edgecolor="black", linewidth=2.8,
                        ax=ax, legend=False, zorder=4, clip_on=False)
        shift = -0.05 if name == "preBötC" else 0
        ax.text(mx + shift, 8.27, name, color="white", fontsize=23 if name == "preBötC" else 20.5, ha="center",
                va="center", zorder=5, path_effects=glow)
    ax.text(m["cmr"], 6.62, "CMR", color="white", fontsize=23.5, ha="center", va="center", zorder=5,
            path_effects=glow)
    ax.annotate("", xy=(m["arrow"][1], 7.02), xytext=(m["arrow"][0], 7.02),
                arrowprops=dict(arrowstyle="<|-|>", color="white", lw=2.8, mutation_scale=22, shrinkA=0, shrinkB=0))
    px_text(*m["lab"], m["label"], fontsize=18.5, fontweight="bold", color="#1c1c1c", va="baseline")
    underlined(*m["tit"], m["title"], 21.4, lw=2)
    px_text(*m["xlab"], "rostro-caudal (mm)", fontsize=18.6, fontweight="bold", ha="center", va="center",
            color="#1c1c1c")
    if m["ylabel"]:
        px_text(*m["ylabel"], "ventral to dorsal surface\n(mm)", fontsize=21.2, fontweight="bold", rotation=90,
                ha="center", va="center", linespacing=1.15, color="#1c1c1c")

# ---- colour key
fig.add_artist(Rectangle((1420 / W, 1 - 1236.7 / H), 95.5 / W, 386.7 / H, transform=fig.transFigure, fill=False,
                         edgecolor="#666666", lw=1.4))
ax = px_ax(1430, 861, 1470, 1226)
key = pd.DataFrame({"level": legend_levels}, index=legend_levels)
sns.heatmap(key, ax=ax, cmap=cmap, vmin=-40, vmax=40, cbar=False, xticklabels=False, yticklabels=True,
            linewidths=2, linecolor="white")
ax.yaxis.tick_right()
ax.set_ylabel("")
ax.tick_params(axis="y", length=0, labelsize=11, labelcolor="#333333", pad=3, rotation=0)

fig.savefig("out.png", dpi=100, facecolor="white")
